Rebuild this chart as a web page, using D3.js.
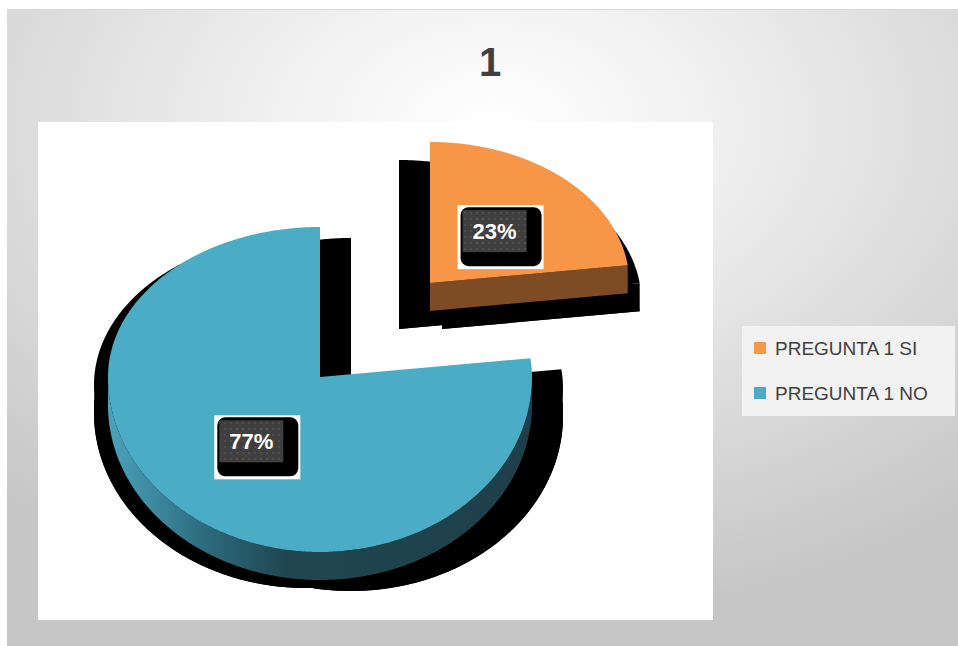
<!DOCTYPE html>
<html>
<head>
<meta charset="utf-8">
<script src="https://cdn.jsdelivr.net/npm/d3@7"></script>
<style>
  html, body { margin: 0; padding: 0; background: #ffffff; }
  svg { display: block; }
</style>
</head>
<body>
<svg id="chart" width="958" height="646"></svg>
<script>
// Survey answers for question 1
const categories = ["PREGUNTA 1 SI", "PREGUNTA 1 NO"];
const values = [23, 77];
const valueLabels = ["23%", "77%"];
const colors = ["#f79646", "#4bacc6"];
const sideColors = ["#7e4c24", "#2d6a7c"];
const title = "1";

const W = 958, H = 646;
const svg = d3.select("#chart");
const defs = svg.append("defs");

// Background: soft radial grey gradient
const bg = defs.append("radialGradient").attr("id", "bgGrad")
  .attr("cx", 0.51).attr("cy", 0.18).attr("r", 0.78);
bg.append("stop").attr("offset", 0).attr("stop-color", "#ffffff");
bg.append("stop").attr("offset", 0.25).attr("stop-color", "#f3f3f3");
bg.append("stop").attr("offset", 1).attr("stop-color", "#c6c6c6");

svg.append("rect").attr("x", 7).attr("y", 9).attr("width", W - 7).attr("height", H - 9)
  .attr("fill", "url(#bgGrad)");
svg.append("line").attr("x1", 7).attr("x2", W).attr("y1", 9.5).attr("y2", 9.5)
  .attr("stroke", "#d8d8d8").attr("stroke-width", 1);

// Title
svg.append("text").attr("x", 490).attr("y", 76)
  .attr("text-anchor", "middle")
  .attr("font-family", "Liberation Sans, Arial, sans-serif")
  .attr("font-weight", "bold").attr("font-size", 40)
  .attr("fill", "#404040").text(title);

// Plot area
svg.append("rect").attr("x", 38).attr("y", 122).attr("width", 675).attr("height", 498)
  .attr("fill", "#ffffff");

// Pie layout
const pie = d3.pie().sort(null).value(d => d);
const arcs = pie(values);

// Perspective projection of the tilted disc
const center = [320, 377];
const RX = 212, RY_BACK = 150, RY_FRONT = 175, DEPTH = 28;
const explode = [[110, -94], [0, 0]];
const scaleBySlice = [0.94, 1];
const shadowOffsets = [[[-31, 18], [12, 18]], [[31, 11], [-14, 8]]];

function proj(i, theta, r) {
  const cx = center[0] + explode[i][0], cy = center[1] + explode[i][1];
  const s = scaleBySlice[i];
  const c = Math.cos(theta);
  const ry = c > 0 ? RY_BACK : RY_FRONT;
  return [cx + s * r * RX * Math.sin(theta), cy - s * r * ry * c];
}
function arcPts(i, a0, a1) {
  const n = Math.max(2, Math.ceil((a1 - a0) / 0.01));
  return d3.range(n + 1).map(k => proj(i, a0 + (a1 - a0) * k / n, 1));
}
const line = d3.line();
function shift(pts, dx, dy) { return pts.map(p => [p[0] + dx, p[1] + dy]); }

function topFace(i, a) {
  return [proj(i, 0, 0), ...arcPts(i, a.startAngle, a.endAngle)];
}
function sideWall(i, a) {
  const s0 = Math.max(a.startAngle, Math.PI / 2), s1 = Math.min(a.endAngle, 3 * Math.PI / 2);
  if (s1 <= s0) return null;
  const pts = arcPts(i, s0, s1);
  return [...pts, ...shift(pts, 0, DEPTH).reverse()];
}
function frontCut(i, a) {
  // radial cut face at the end angle, facing the viewer when it lies in the upper half
  const e = a.endAngle;
  if (!(e > 0 && e < Math.PI / 2)) return null;
  const p0 = proj(i, 0, 0), p1 = proj(i, e, 1);
  return [p0, p1, [p1[0], p1[1] + DEPTH], [p0[0], p0[1] + DEPTH]];
}

// Side gradient for the large slice
const sg = defs.append("linearGradient").attr("id", "sideGrad1")
  .attr("x1", 0).attr("x2", 1).attr("y1", 0).attr("y2", 0);
sg.append("stop").attr("offset", 0).attr("stop-color", "#4aa3bb");
sg.append("stop").attr("offset", 0.22).attr("stop-color", "#2e6d80");
sg.append("stop").attr("offset", 0.42).attr("stop-color", "#1f4650");
sg.append("stop").attr("offset", 1).attr("stop-color", "#1e3f49");

// Shadows
const shadowG = svg.append("g");
arcs.forEach((a, i) => {
  shadowOffsets[i].forEach(([dx, dy]) => {
    const tf = topFace(i, a);
    shadowG.append("path").attr("d", line(shift(tf, dx, dy)) + "Z").attr("fill", "#000");
    shadowG.append("path").attr("d", line(shift(tf, dx, dy + DEPTH)) + "Z").attr("fill", "#000");
    const sw = sideWall(i, a);
    if (sw) shadowG.append("path").attr("d", line(shift(sw, dx, dy)) + "Z").attr("fill", "#000");
    const fc = frontCut(i, a);
    if (fc) shadowG.append("path").attr("d", line(shift(fc, dx, dy)) + "Z").attr("fill", "#000");
  });
});

// Slices: large one first, exploded slice on top
const order = [1, 0];
order.forEach(i => {
  const a = arcs[i];
  const g = svg.append("g");
  const sw = sideWall(i, a);
  if (sw) g.append("path").attr("d", line(sw) + "Z")
    .attr("fill", i === 1 ? "url(#sideGrad1)" : sideColors[i]);
  const fc = frontCut(i, a);
  if (fc) g.append("path").attr("d", line(fc) + "Z").attr("fill", sideColors[i]);
  g.append("path").attr("d", line(topFace(i, a)) + "Z").attr("fill", colors[i]);
});

// Data label pattern
const pat = defs.append("pattern").attr("id", "dots")
  .attr("width", 6).attr("height", 6).attr("patternUnits", "userSpaceOnUse");
pat.append("rect").attr("width", 6).attr("height", 6).attr("fill", "#3f3f3f");
pat.append("circle").attr("cx", 3).attr("cy", 3).attr("r", 0.9).attr("fill", "#575757");

arcs.forEach((a, i) => {
  const mid = (a.startAngle + a.endAngle) / 2;
  const [lx, ly] = proj(i, mid, 0.49);
  const gw = 64, gh = 42;
  const gx = lx - gw / 2, gy = ly - gh / 2;
  const g = svg.append("g");
  g.append("rect").attr("x", gx - 5).attr("y", gy - 5).attr("width", 86).attr("height", 64)
    .attr("fill", "#ffffff");
  g.append("rect").attr("x", gx - 2).attr("y", gy - 3).attr("width", 81).attr("height", 59)
    .attr("rx", 8).attr("fill", "#000000");
  g.append("rect").attr("x", gx).attr("y", gy).attr("width", gw).attr("height", gh)
    .attr("fill", "url(#dots)");
  g.append("text").attr("x", gx + gw / 2).attr("y", gy + gh / 2 + 8)
    .attr("text-anchor", "middle")
    .attr("font-family", "Liberation Sans, Arial, sans-serif")
    .attr("font-weight", "bold").attr("font-size", 22)
    .attr("fill", "#ffffff").text(valueLabels[i]);
});

// Legend
const lg = svg.append("g");
lg.append("rect").attr("x", 742).attr("y", 326).attr("width", 213).attr("height", 90)
  .attr("fill", "#f2f2f2");
categories.forEach((c, i) => {
  const y = 355 + i * 45;
  lg.append("rect").attr("x", 754).attr("y", y - 13).attr("width", 12).attr("height", 12)
    .attr("fill", colors[i]);
  lg.append("text").attr("x", 775).attr("y", y)
    .attr("font-family", "Liberation Sans, Arial, sans-serif")
    .attr("font-size", 19).attr("fill", "#404040").text(c);
});
</script>
</body>
</html>
